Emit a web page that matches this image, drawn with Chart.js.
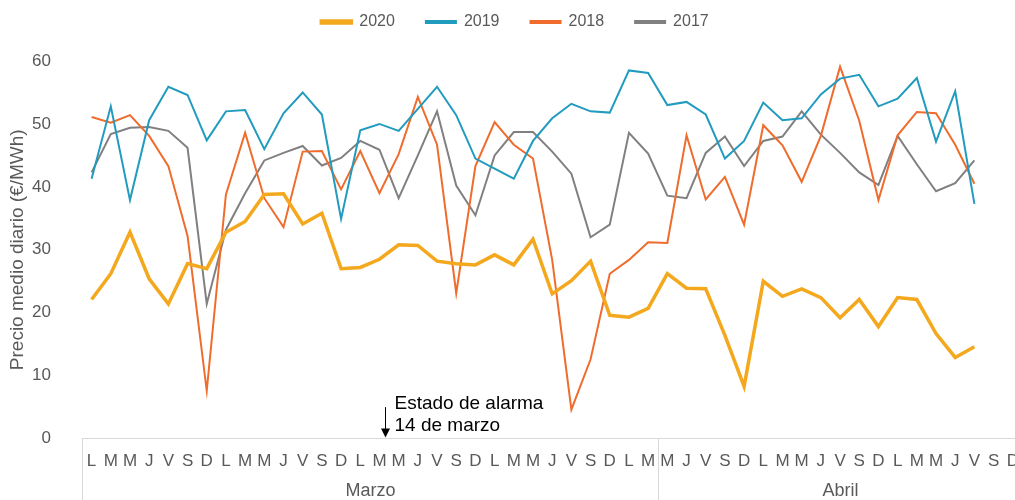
<!DOCTYPE html>
<html lang="es">
<head>
<meta charset="utf-8">
<script src="https://cdn.jsdelivr.net/npm/chart.js@4.4.1/dist/chart.umd.min.js"></script>
<style>
  html, body { margin: 0; padding: 0; background: #fff; overflow: hidden; }
  #wrap { width: 1032px; height: 500px; position: relative; }
</style>
</head>
<body>
<div id="wrap"><canvas id="grafico"></canvas></div>
<script>
// dias de la semana (2 de marzo - 19 de abril)
const dias = [
  'L','M','M','J','V','S','D',
  'L','M','M','J','V','S','D',
  'L','M','M','J','V','S','D',
  'L','M','M','J','V','S','D',
  'L','M',
  'M','J','V','S','D',
  'L','M','M','J','V','S','D',
  'L','M','M','J','V','S','D'
];
const meses = ['Marzo', 'Abril'];
const diasPorMes = [30, 19];

const p2020 = [22.1, 26.2, 32.8, 25.4, 21.4, 27.8, 27.0, 32.8, 34.5, 38.8, 38.9, 34.1, 35.8, 27.0, 27.2, 28.5,
  30.8, 30.7, 28.2, 27.8, 27.6, 29.2, 27.6, 31.7, 23.0, 25.1, 28.2, 19.6, 19.3, 20.7, 26.2, 23.9, 23.8, 16.4,
  8.3, 25.0, 22.6, 23.8, 22.4, 19.2, 22.1, 17.8, 22.4, 22.1, 16.7, 12.9, 14.6];
const p2019 = [41.3, 52.8, 37.9, 50.6, 55.9, 54.6, 47.4, 52.0, 52.2, 46.0, 51.7, 55.0, 51.5, 34.9, 49.0, 50.0,
  48.9, 52.4, 55.9, 51.4, 44.5, 42.9, 41.3, 47.3, 50.9, 53.2, 52.0, 51.8, 58.5, 58.1, 53.0, 53.5, 51.5, 44.5,
  47.3, 53.4, 50.6, 50.9, 54.7, 57.2, 57.8, 52.8, 54.0, 57.3, 47.2, 55.2, 37.3];
const p2018 = [51.1, 50.2, 51.4, 48.1, 43.3, 32.2, 7.6, 38.8, 48.6, 38.2, 33.6, 45.6, 45.7, 39.6, 45.7, 39.0,
  45.2, 54.3, 46.7, 23.1, 43.3, 50.3, 46.7, 44.5, 28.4, 4.6, 12.6, 26.2, 28.4, 31.2, 31.1, 48.2, 38.0, 41.6,
  34.0, 49.8, 46.6, 40.8, 48.1, 59.1, 50.5, 37.9, 48.2, 51.9, 51.7, 46.7, 40.5];
const p2017 = [42.3, 48.4, 49.4, 49.5, 48.9, 46.2, 21.4, 33.2, 39.0, 44.2, 45.4, 46.5, 43.4, 44.6, 47.3, 45.9,
  38.2, 45.0, 52.0, 40.2, 35.5, 45.0, 48.7, 48.7, 45.6, 42.1, 32.0, 34.0, 48.6, 45.3, 38.6, 38.2, 45.4, 48.0,
  43.3, 47.3, 48.0, 52.0, 48.3, 45.4, 42.3, 40.3, 48.1, 43.6, 39.3, 40.6, 44.2];

const nota = ['Estado de alarma', '14 de marzo'];
const notaPos = 15.3;

const GRIS = '#595959';
const FUENTE = "'Liberation Sans', Arial, sans-serif";

// separadores y nombres de mes bajo el eje x
const mesesPlugin = {
  id: 'meses',
  afterDraw(chart) {
    const { ctx, chartArea } = chart;
    const x = chart.scales.x;
    const y0 = chartArea.bottom;
    ctx.save();
    ctx.strokeStyle = '#d9d9d9';
    ctx.lineWidth = 1;
    let inicio = 0;
    diasPorMes.forEach((n, k) => {
      const xa = Math.round(x.getPixelForValue(inicio - 0.5)) + 0.5;
      const xb = Math.round(x.getPixelForValue(inicio + n - 0.5)) + 0.5;
      ctx.beginPath();
      ctx.moveTo(xa, y0);
      ctx.lineTo(xa, chart.height);
      ctx.moveTo(xb, y0);
      ctx.lineTo(xb, chart.height);
      ctx.stroke();
      ctx.fillStyle = GRIS;
      ctx.font = '18px ' + FUENTE;
      ctx.textAlign = 'center';
      ctx.textBaseline = 'middle';
      ctx.fillText(meses[k], (xa + xb) / 2, y0 + 52);
      inicio += n;
    });
    ctx.restore();
  }
};

// flecha "Estado de alarma"
const notaPlugin = {
  id: 'nota',
  afterDraw(chart) {
    const { ctx } = chart;
    const xs = chart.scales.x, ys = chart.scales.y;
    const xp = Math.round(xs.getPixelForValue(notaPos)) + 0.5;
    const yTop = ys.getPixelForValue(5.0);
    const yBot = ys.getPixelForValue(0) - 1;
    ctx.save();
    ctx.strokeStyle = '#000';
    ctx.fillStyle = '#000';
    ctx.lineWidth = 1;
    ctx.beginPath();
    ctx.moveTo(xp, yTop);
    ctx.lineTo(xp, yBot - 6);
    ctx.stroke();
    ctx.beginPath();
    ctx.moveTo(xp - 4.5, yBot - 9);
    ctx.lineTo(xp + 4.5, yBot - 9);
    ctx.lineTo(xp, yBot);
    ctx.closePath();
    ctx.fill();
    ctx.font = '19px ' + FUENTE;
    ctx.textAlign = 'left';
    ctx.textBaseline = 'middle';
    ctx.fillText(nota[0], xp + 9, ys.getPixelForValue(5.6));
    ctx.fillText(nota[1], xp + 9, ys.getPixelForValue(2.1));
    ctx.restore();
  }
};

// mas espacio bajo la leyenda
const leyendaPlugin = {
  id: 'leyendaMargen',
  beforeInit(chart) {
    const fitOrig = chart.legend.fit;
    chart.legend.fit = function () {
      fitOrig.bind(chart.legend)();
      this.height += 21;
    };
  }
};

function serie(label, data, color, ancho) {
  return {
    label,
    data,
    borderColor: color,
    backgroundColor: color,
    borderWidth: ancho,
    pointRadius: 0,
    pointHoverRadius: 0,
    tension: 0,
    fill: false
  };
}

const ctx = document.getElementById('grafico').getContext('2d');
new Chart(ctx, {
  type: 'line',
  data: {
    labels: dias,
    datasets: [
      serie('2020', p2020, '#F4A81D', 3.5),
      serie('2019', p2019, '#219BBE', 2),
      serie('2018', p2018, '#EF6C2C', 2),
      serie('2017', p2017, '#808080', 2)
    ]
  },
  options: {
    responsive: true,
    maintainAspectRatio: false,
    animation: false,
    layout: { padding: { top: -17, left: 6, right: 8, bottom: 15 } },
    plugins: {
      legend: {
        position: 'top',
        labels: {
          color: GRIS,
          font: { family: FUENTE, size: 16 },
          boxWidth: 30,
          boxHeight: 2,
          padding: 31
        }
      },
      tooltip: { enabled: false }
    },
    scales: {
      x: {
        offset: true,
        grid: { display: false, drawTicks: false },
        border: { display: true, color: '#d9d9d9', width: 1 },
        ticks: {
          color: GRIS,
          font: { family: FUENTE, size: 17 },
          padding: 13,
          maxRotation: 0,
          autoSkip: false
        }
      },
      y: {
        min: 0,
        max: 60,
        afterFit(scale) { scale.width = 76; },
        grid: { display: false, drawTicks: false },
        border: { display: false },
        ticks: {
          stepSize: 10,
          color: GRIS,
          font: { family: FUENTE, size: 17 },
          padding: 31
        },
        title: {
          display: true,
          text: 'Precio medio diario (€/MWh)',
          color: GRIS,
          font: { family: FUENTE, size: 19 },
          padding: 0
        }
      }
    }
  },
  plugins: [mesesPlugin, notaPlugin, leyendaPlugin]
});
</script>
</body>
</html>
